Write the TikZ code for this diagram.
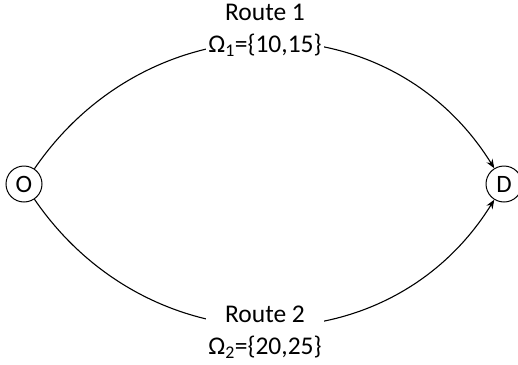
\documentclass[tikz,border=0pt]{standalone}
\usepackage{fontspec}
\setmainfont{Carlito}
\usetikzlibrary{arrows.meta}
\begin{document}
\begin{tikzpicture}[x=1pt,y=-1pt,
  place/.style={draw, circle, line width=1pt, minimum size=36pt, inner sep=0pt,
    font=\fontsize{25}{30}\selectfont},
  route/.style={line width=1.1pt, -{Stealth[length=9pt,width=7pt]}},
  lbl/.style={fill=white, align=center, inner sep=2pt,
    font=\fontsize{25.5}{32}\selectfont}]
\useasboundingbox (0,0) rectangle (518,364);
% origin and destination
\node[place] (O) at (24,184) {O};
\node[place] (D) at (504,184) {D};
% the two routes
\draw[route] (O) .. controls (150,0) and (390,0) .. (D);
\draw[route] (O) .. controls (150,368) and (390,368) .. (D);
% route labels
\node[lbl] (r1) at (265,30) {Route 1\\Ω\textsubscript{1}=\{10,15\}};
\node[lbl] (r2) at (265,332) {Route 2\\Ω\textsubscript{2}=\{20,25\}};
\end{tikzpicture}
\end{document}
